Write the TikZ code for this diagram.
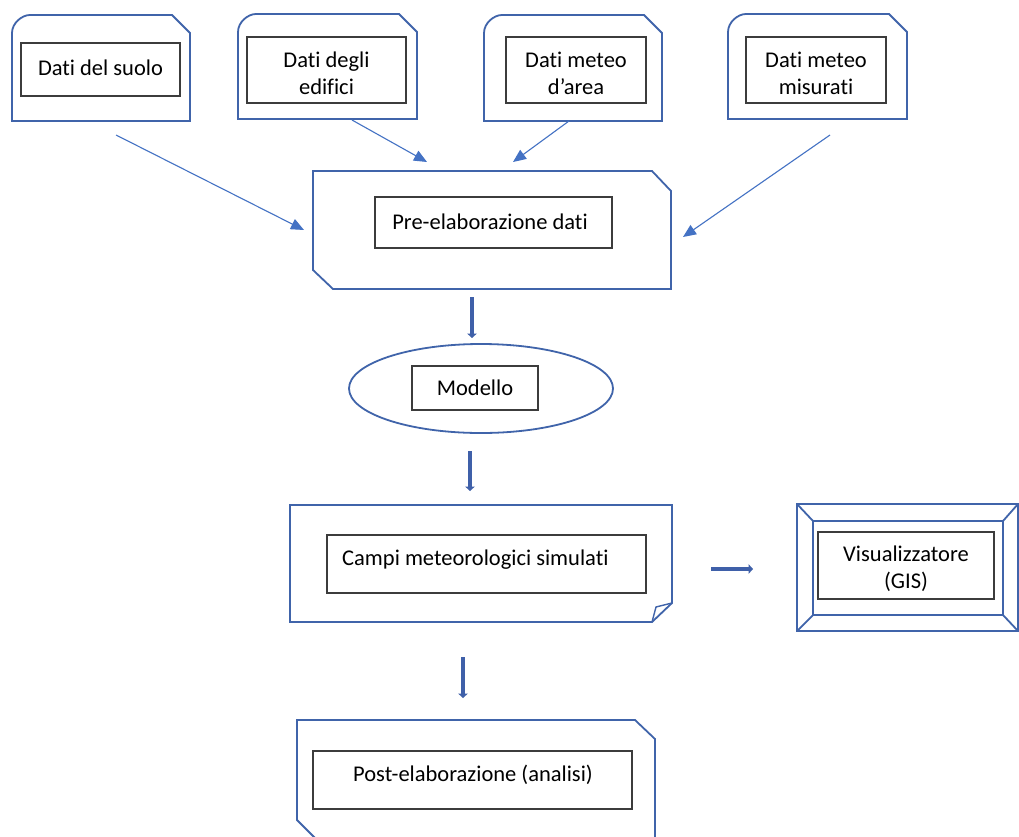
\documentclass[tikz,border=0pt]{standalone}
\usepackage{fontspec}
\setmainfont{Carlito}[Ligatures=NoCommon]
\usetikzlibrary{arrows.meta,shapes.geometric}
\definecolor{shapeblue}{RGB}{64,100,170}
\definecolor{thinblue}{RGB}{68,114,196}
\definecolor{thickblue}{RGB}{63,96,169}
\definecolor{innergray}{RGB}{60,60,60}
\tikzset{
  outer/.style={draw=shapeblue, line width=1.8pt, line join=miter},
  innerbox/.style={draw=innergray, line width=1.4pt, inner sep=0pt, align=center,
    font=\fontsize{22.5}{27}\selectfont},
  txt/.style={inner sep=0pt, align=center, font=\fontsize{22.5}{27}\selectfont},
  thinarrow/.style={draw=thinblue, line width=1.1pt, -{Triangle[length=13pt,width=11pt]}},
  thickarrow/.style={draw=thickblue, line width=4.2pt, -{Triangle[length=4.5pt,width=9.5pt]}},
}
\begin{document}
\begin{tikzpicture}[x=1pt,y=-1pt]
\clip (0,0) rectangle (1019,836);
\fill[white] (0,0) rectangle (1019,836);

% --- top source boxes (rounded top-left, snipped top-right) ---
\draw[outer] (12,121) -- (12,33) .. controls (12,23.1) and (21.9,15) .. (30,15) -- (172,15) -- (190,33) -- (190,121) -- cycle;
\draw[outer] (238,119) -- (238,32) .. controls (238,22.1) and (247.9,14) .. (256,14) -- (399,14) -- (417,32) -- (417,119) -- cycle;
\draw[outer] (484,121) -- (484,33) .. controls (484,23.1) and (493.9,15) .. (502,15) -- (644,15) -- (662,33) -- (662,121) -- cycle;
\draw[outer] (728,119) -- (728,32) .. controls (728,22.1) and (737.9,14) .. (746,14) -- (889,14) -- (907,32) -- (907,119) -- cycle;

\node[innerbox, minimum width=159pt, minimum height=53pt] (suolo) at (100.5,69.5) {};
\node[txt] (suolotxt) at (100.5,67.5) {Dati del suolo};
\node[innerbox, minimum width=159pt, minimum height=66pt] (edifici) at (326.5,70) {};
\node[txt] (edificitxt) at (326.5,73) {Dati degli\\edifici};
\node[innerbox, minimum width=140pt, minimum height=66pt] (area) at (576,70) {};
\node[txt] (areatxt) at (576,73) {Dati meteo\\d’area};
\node[innerbox, minimum width=140pt, minimum height=66pt] (misurati) at (816,70) {};
\node[txt] (misuratitxt) at (816,73) {Dati meteo\\misurati};

% --- pre-elaborazione (snipped top-right and bottom-left) ---
\draw[outer] (313,171) -- (652,171) -- (671,191) -- (671,289) -- (333,289) -- (313,270) -- cycle;
\node[innerbox, minimum width=237pt, minimum height=51pt] (pre) at (493.5,222.5) {};
\node[txt, anchor=base] (pretxt) at (490,229) {Pre-elaborazione dati};

% --- modello ---
\node[ellipse, draw=shapeblue, line width=1.8pt, minimum width=264pt, minimum height=89pt, inner sep=0pt] (ell) at (481,388.5) {};
\node[innerbox, minimum width=126pt, minimum height=44pt] (modello) at (475,388) {Modello};

% --- campi meteorologici simulati (folded corner) ---
\draw[outer] (290,505) -- (672,505) -- (672,603) -- (652,622) -- (290,622) -- cycle;
\draw[outer, line width=1.4pt] (652,622) -- (656,607) -- (672,603);
\node[innerbox, minimum width=319pt, minimum height=58pt] (campi) at (486.5,564) {};
\node[txt, anchor=base west] (campitxt) at (342,565) {Campi meteorologici simulati};

% --- visualizzatore (bevel) ---
\draw[outer] (797,504) rectangle (1018,631);
\draw[outer] (813,521) rectangle (1003,615);
\draw[outer] (797,504) -- (813,521);
\draw[outer] (1018,504) -- (1003,521);
\draw[outer] (797,631) -- (813,615);
\draw[outer] (1018,631) -- (1003,615);
\node[innerbox, minimum width=176pt, minimum height=67pt] (vis) at (906,565.5) {};
\node[txt] (vistxt) at (906,569) {Visualizzatore\\(GIS)};

% --- post-elaborazione ---
\draw[outer] (318,841) -- (297,820) -- (297,720) -- (635,720) -- (655,739) -- (655,845);
\node[innerbox, minimum width=319pt, minimum height=58pt] (post) at (472.5,780) {};
\node[txt, anchor=base] (posttxt) at (473,781) {Post-elaborazione (analisi)};

% --- connectors ---
\coordinate (a1s) at (116,135); \coordinate (a1e) at (304,230);
\coordinate (a2s) at (352,120); \coordinate (a2e) at (427,162);
\coordinate (a3s) at (569,121); \coordinate (a3e) at (513,162);
\coordinate (a4s) at (830,135); \coordinate (a4e) at (683,237);
\draw[thinarrow] (a1s) -- (a1e);
\draw[thinarrow] (a2s) -- (a2e);
\draw[thinarrow] (a3s) -- (a3e);
\draw[thinarrow] (a4s) -- (a4e);

\coordinate (b1s) at (472,297); \coordinate (b1e) at (472,338);
\coordinate (b2s) at (470,451); \coordinate (b2e) at (470,491);
\coordinate (b3s) at (463,657); \coordinate (b3e) at (463,698);
\coordinate (b4s) at (711,569); \coordinate (b4e) at (753,569);
\draw[thickarrow] (b1s) -- (b1e);
\draw[thickarrow] (b2s) -- (b2e);
\draw[thickarrow] (b3s) -- (b3e);
\draw[thickarrow] (b4s) -- (b4e);
\end{tikzpicture}
\end{document}
